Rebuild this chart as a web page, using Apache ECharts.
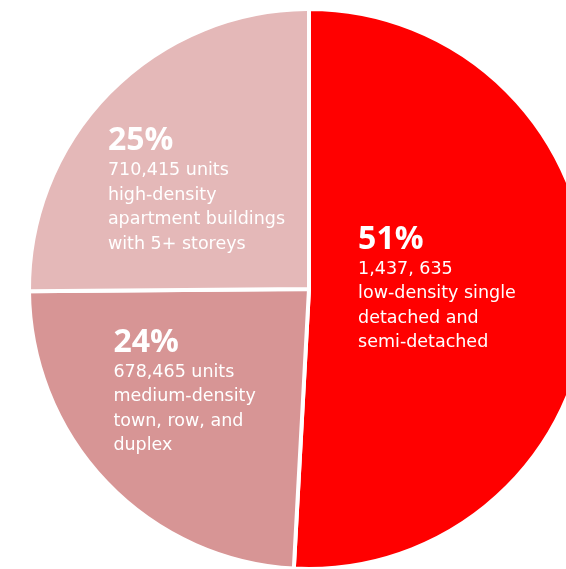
<!DOCTYPE html>
<html><head><meta charset="utf-8">
<script src="https://cdn.jsdelivr.net/npm/echarts@6/dist/echarts.min.js"></script>
<style>html,body{margin:0;padding:0;background:#fff}#c{width:566px;height:569px}</style>
</head><body><div id="c"></div>
<script>
const categories = ['low-density', 'medium-density', 'high-density'];
const units = [1437635, 678465, 710415];
const percents = ['51%', '24%', '25%'];
const unitLabels = ['1,437, 635', '678,465 units', '710,415 units'];
const descriptions = [
  ['low-density single', 'detached and', 'semi-detached'],
  ['medium-density', 'town, row, and', 'duplex'],
  ['high-density', 'apartment buildings', 'with 5+ storeys']
];
const colors = ['#ff0000', '#d79595', '#e4b8b8'];
const offsets = [[-15, -4], [-21, 4], [-11, 2]];

const chart = echarts.init(document.getElementById('c'), null, {renderer: 'canvas'});
const PFONT = '"Open Sans"';
const TFONT = '"DejaVu Sans"';
chart.setOption({
  animation: false,
  series: [{
    type: 'pie',
    center: [309, 289],
    radius: [0, 280],
    startAngle: 90,
    clockwise: true,
    avoidLabelOverlap: false,
    itemStyle: {borderColor: '#fff', borderWidth: 4},
    label: {
      show: true,
      position: 'inside',
      color: '#fff',
      formatter: function (p) {
        const i = p.dataIndex;
        return ['{p|' + percents[i] + '}', '{t|' + unitLabels[i] + '}']
          .concat(descriptions[i].map(s => '{t|' + s + '}')).join('\n');
      },
      rich: {
        p: {fontFamily: PFONT, fontSize: 32, fontWeight: 'bold', color: '#fff', align: 'left', lineHeight: 34},
        t: {fontFamily: TFONT, fontSize: 17.5, color: '#fff', align: 'left', lineHeight: 24.5}
      }
    },
    labelLine: {show: false},
    emphasis: {disabled: true},
    data: categories.map((c, i) => ({
      name: c,
      value: units[i],
      itemStyle: {color: colors[i]},
      label: {offset: offsets[i]}
    }))
  }]
});
</script></body></html>
